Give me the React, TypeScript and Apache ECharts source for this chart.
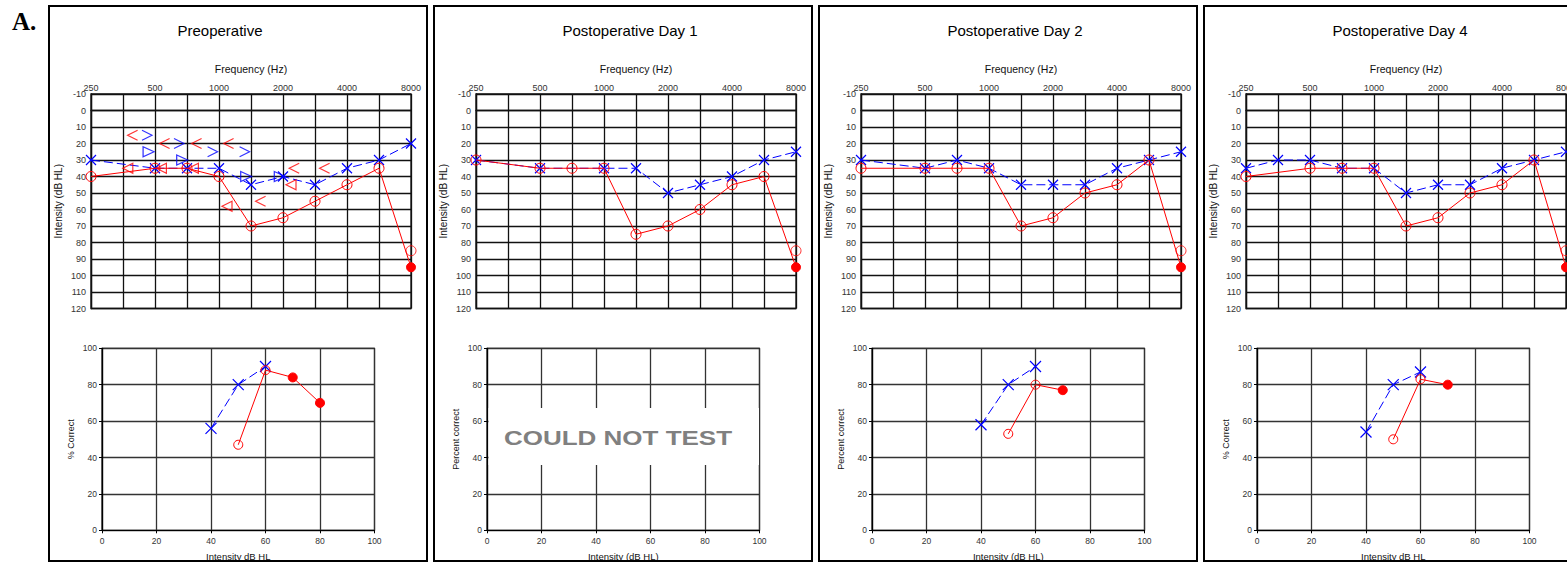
import React, { useEffect, useRef } from 'react';
import * as echarts from 'echarts';

// ---------- tick labels / names ----------
const freqTickLabels = ['250', '', '500', '', '1000', '', '2000', '', '4000', '', '8000'];
const panelTitles = ['Preoperative', 'Postoperative Day 1', 'Postoperative Day 2', 'Postoperative Day 4'];
const speechYNames = ['% Correct', 'Percent correct', 'Percent correct', '% Correct'];
const speechXNames = ['Intensity dB HL', 'Intensity (dB HL)', 'Intensity (dB HL)', 'Intensity dB HL'];

// ---------- audiogram data: [frequency index, dB HL] ----------
// Preoperative
const preRightAC = [[0, 40], [2, 35], [3, 35], [4, 40], [5, 70], [6, 65], [7, 55], [8, 45], [9, 35]];
const preRightFilled = [10, 95];
const preRightOpen = [10, 85];
const preLeftAC = [[0, 30], [2, 35], [3, 35], [4, 35], [5, 45], [6, 40], [7, 45], [8, 35], [9, 30], [10, 20]];
const preRightBC = [[1.3, 15], [2.3, 20], [3.3, 20], [4.3, 20], [5.3, 55], [6.35, 35], [7.3, 35]];
const preLeftBC = [[1.75, 15], [2.75, 20], [3.8, 25], [4.8, 25]];
const preRightTri = [[1.15, 35], [2.2, 35], [3.2, 35], [4.25, 58], [6.25, 45]];
const preLeftTri = [[1.8, 25], [2.85, 30], [4.85, 40], [5.9, 40]];

// Day 1
const d1RightAC = [[0, 30], [2, 35], [3, 35], [4, 35], [5, 75], [6, 70], [7, 60], [8, 45], [9, 40]];
const d1RightFilled = [10, 95];
const d1RightOpen = [10, 85];
const d1LeftAC = [[0, 30], [2, 35], [4, 35], [5, 35], [6, 50], [7, 45], [8, 40], [9, 30], [10, 25]];

// Day 2
const d2RightAC = [[0, 35], [2, 35], [3, 35], [4, 35], [5, 70], [6, 65], [7, 50], [8, 45], [9, 30]];
const d2RightFilled = [10, 95];
const d2RightOpen = [10, 85];
const d2LeftAC = [[0, 30], [2, 35], [3, 30], [4, 35], [5, 45], [6, 45], [7, 45], [8, 35], [9, 30], [10, 25]];

// Day 4
const d4RightAC = [[0, 40], [2, 35], [3, 35], [4, 35], [5, 70], [6, 65], [7, 50], [8, 45], [9, 30]];
const d4RightFilled = [10, 95];
const d4RightOpen = [10, 85];
const d4LeftAC = [[0, 35], [1, 30], [2, 30], [3, 35], [4, 35], [5, 50], [6, 45], [7, 45], [8, 35], [9, 30], [10, 25]];

// ---------- speech data: [intensity dB HL, % correct] ----------
const preSpeechLeft = [[40, 56], [50, 80], [60, 90]];
const preSpeechRightOpen = [[50, 47], [60, 88]];
const preSpeechRightFilled = [[70, 84], [80, 70]];
const d2SpeechLeft = [[40, 58], [50, 80], [60, 90]];
const d2SpeechRightOpen = [[50, 53], [60, 80]];
const d2SpeechRightFilled = [[70, 77]];
const d4SpeechLeft = [[40, 54], [50, 80], [60, 87]];
const d4SpeechRightOpen = [[50, 50], [60, 83]];
const d4SpeechRightFilled = [[70, 80]];

const RED = '#ff0000';
const BLUE = '#0000ff';
const FONT = "'Liberation Sans', Arial, Helvetica, sans-serif";
const CLEAR = 'rgba(0,0,0,0)';
const X_PATH = 'path://M0,0L10,10M10,0L0,10';
const LT_PATH = 'path://M10,0L0,5L10,10';
const GT_PATH = 'path://M0,0L10,5L0,10';
const LTRI_PATH = 'path://M10,0L0,5L10,10Z';
const RTRI_PATH = 'path://M0,0L10,5L0,10Z';

const audiograms = [
  { right: preRightAC, filled: preRightFilled, open: preRightOpen, left: preLeftAC },
  { right: d1RightAC, filled: d1RightFilled, open: d1RightOpen, left: d1LeftAC },
  { right: d2RightAC, filled: d2RightFilled, open: d2RightOpen, left: d2LeftAC },
  { right: d4RightAC, filled: d4RightFilled, open: d4RightOpen, left: d4LeftAC },
];
const speech = [
  { left: preSpeechLeft, open: preSpeechRightOpen, filled: preSpeechRightFilled },
  null,
  { left: d2SpeechLeft, open: d2SpeechRightOpen, filled: d2SpeechRightFilled },
  { left: d4SpeechLeft, open: d4SpeechRightOpen, filled: d4SpeechRightFilled },
];

const DX = 385;

function buildOption() {
  const grid: any[] = [];
  const xAxis: any[] = [];
  const yAxis: any[] = [];
  const series: any[] = [];
  const graphic: any[] = [];

  const labelStyle = { color: '#333', fontFamily: FONT };
  const audioGridLine = { color: '#111', width: 1.3 };
  const speechGridLine = { color: '#333', width: 1.3 };

  for (let i = 0; i < 4; i++) {
    grid.push({
      left: 91 + DX * i, top: 94, width: 320, height: 214.5, show: true, borderColor: '#111', borderWidth: 1.3,
      containLabel: false, outerBoundsMode: 'none',
    });
  }
  for (let i = 0; i < 4; i++) {
    grid.push({
      left: 102 + DX * i, top: 348.3, width: 272.5, height: 182, show: true, borderColor: '#111', borderWidth: 1.2,
      containLabel: false, outerBoundsMode: 'none',
    });
  }

  // audiogram axes
  for (let i = 0; i < 4; i++) {
    xAxis.push({
      gridIndex: i, type: 'value', position: 'top', min: 0, max: 10, interval: 1,
      axisLine: { show: true, lineStyle: audioGridLine },
      axisTick: { show: false },
      axisLabel: {
        ...labelStyle, fontSize: 9, margin: 2, showMinLabel: true, showMaxLabel: true,
        formatter: (v: number) => freqTickLabels[Math.round(v)] || '',
      },
      splitLine: { show: true, lineStyle: audioGridLine },
      name: 'Frequency (Hz)', nameLocation: 'middle', nameGap: 19.5,
      nameTextStyle: { fontSize: 10.5, color: '#111', fontFamily: FONT },
    });
    yAxis.push({
      gridIndex: i, type: 'value', inverse: true, min: -10, max: 120, interval: 10,
      axisLine: { show: true, lineStyle: audioGridLine },
      axisTick: { show: false },
      axisLabel: { ...labelStyle, fontSize: 9, margin: 5, showMinLabel: true, showMaxLabel: true },
      splitLine: { show: true, lineStyle: audioGridLine },
      name: 'Intensity (dB HL)', nameLocation: 'middle', nameGap: 27.5, nameRotate: 90,
      nameTextStyle: { fontSize: 10, color: '#111', fontFamily: FONT },
    });
  }
  // speech axes
  for (let i = 0; i < 4; i++) {
    xAxis.push({
      gridIndex: 4 + i, type: 'value', position: 'bottom', min: 0, max: 100, interval: 20,
      axisLine: { show: true, lineStyle: { color: '#000', width: 1.2 } },
      axisTick: { show: true, length: 3, lineStyle: { color: '#000' } },
      axisLabel: { ...labelStyle, fontSize: 8.5, margin: 6, showMinLabel: true, showMaxLabel: true },
      splitLine: { show: true, lineStyle: speechGridLine },
      name: speechXNames[i], nameLocation: 'middle', nameGap: 21,
      nameTextStyle: { fontSize: 9.5, color: '#111', fontFamily: FONT },
    });
    yAxis.push({
      gridIndex: 4 + i, type: 'value', min: 0, max: 100, interval: 20,
      axisLine: { show: true, lineStyle: { color: '#000', width: 1.2 } },
      axisTick: { show: true, length: 3, lineStyle: { color: '#000' } },
      axisLabel: { ...labelStyle, fontSize: 8.5, margin: 5, showMinLabel: true, showMaxLabel: true },
      splitLine: { show: true, lineStyle: speechGridLine },
      name: speechYNames[i], nameLocation: 'middle', nameGap: 27, nameRotate: 90,
      nameTextStyle: { fontSize: 9, color: '#111', fontFamily: FONT },
    });
  }

  const openCircleStyle = { color: CLEAR, borderColor: RED, borderWidth: 1 };
  const xStyle = { color: CLEAR, borderColor: BLUE, borderWidth: 1.2 };

  audiograms.forEach((a, i) => {
    series.push({
      type: 'line', xAxisIndex: i, yAxisIndex: i, clip: false, silent: true, z: 3,
      data: a.left, symbol: X_PATH, symbolSize: 10, itemStyle: xStyle,
      lineStyle: { color: BLUE, width: 1, type: [9, 4] },
    });
    series.push({
      type: 'line', xAxisIndex: i, yAxisIndex: i, clip: false, silent: true, z: 4,
      data: [
        ...a.right.map((p) => ({ value: p })),
        { value: a.filled, symbol: 'circle', symbolSize: 9, itemStyle: { color: RED, borderColor: RED } },
      ],
      symbol: 'circle', symbolSize: 10, itemStyle: openCircleStyle,
      lineStyle: { color: RED, width: 1 },
    });
    series.push({
      type: 'scatter', xAxisIndex: i, yAxisIndex: i, clip: false, silent: true, z: 4,
      data: [a.open], symbol: 'circle', symbolSize: 10, itemStyle: openCircleStyle,
    });
  });

  // preoperative bone / masked symbols
  const symSeries = (data: number[][], symbol: string, color: string, size: number[]) => ({
    type: 'scatter', xAxisIndex: 0, yAxisIndex: 0, clip: false, silent: true, z: 4,
    data, symbol, symbolSize: size,
    itemStyle: { color: CLEAR, borderColor: color, borderWidth: 1.2 },
  });
  series.push(symSeries(preRightBC, LT_PATH, RED, [10, 10]));
  series.push(symSeries(preLeftBC, GT_PATH, BLUE, [10, 10]));
  series.push(symSeries(preRightTri, LTRI_PATH, RED, [10, 10]));
  series.push(symSeries(preLeftTri, RTRI_PATH, BLUE, [11, 10]));

  speech.forEach((s, i) => {
    if (!s) return;
    const gi = 4 + i;
    series.push({
      type: 'line', xAxisIndex: gi, yAxisIndex: gi, clip: false, silent: true, z: 3,
      data: s.left, symbol: X_PATH, symbolSize: 11, itemStyle: xStyle,
      lineStyle: { color: BLUE, width: 1, type: [9, 4] },
    });
    series.push({
      type: 'line', xAxisIndex: gi, yAxisIndex: gi, clip: false, silent: true, z: 4,
      data: [
        ...s.open.map((p) => ({ value: p })),
        ...s.filled.map((p) => ({ value: p, symbol: 'circle', symbolSize: 9, itemStyle: { color: RED, borderColor: RED } })),
      ],
      symbol: 'circle', symbolSize: 9, itemStyle: openCircleStyle,
      lineStyle: { color: RED, width: 1 },
    });
  });

  // decorations
  graphic.push({
    type: 'text', x: 12, y: 21.5, z: 100,
    style: { text: 'A.', fontSize: 25, fontWeight: 'bold', fontFamily: "'Liberation Serif', 'Times New Roman', serif", fill: '#000', textVerticalAlign: 'middle' },
  });
  for (let i = 0; i < 4; i++) {
    graphic.push({
      type: 'rect', z: 100, shape: { x: 49 + DX * i, y: 6, width: 378, height: 555 },
      style: { fill: 'none', stroke: '#000', lineWidth: 2 },
    });
    graphic.push({
      type: 'text', x: 177.5 + DX * i, y: 30, z: 100,
      style: { text: panelTitles[i], fontSize: 15, fontFamily: FONT, fill: '#000', textVerticalAlign: 'middle' },
    });
  }
  graphic.push({
    type: 'rect', z: 100, shape: { x: 488.5, y: 408, width: 270.5, height: 57 },
    style: { fill: '#fff', stroke: 'none' },
  });
  graphic.push({
    type: 'text', x: 618, y: 438, z: 101, scaleX: 1.3,
    style: { text: 'COULD NOT TEST', fontSize: 20, fontWeight: 'bold', fontFamily: FONT, fill: '#808080', textAlign: 'center', textVerticalAlign: 'middle' },
  });

  return {
    animation: false,
    backgroundColor: '#fff',
    textStyle: { fontFamily: FONT },
    grid, xAxis, yAxis, series, graphic,
  };
}

export default function App() {
  const ref = useRef<HTMLDivElement>(null);
  useEffect(() => {
    if (!ref.current) return;
    const chart = echarts.init(ref.current, null, { renderer: 'svg' });
    chart.setOption(buildOption() as any);
    return () => chart.dispose();
  }, []);
  return <div ref={ref} style={{ position: 'absolute', left: 0, top: 0, width: 1567, height: 562 }} />;
}
